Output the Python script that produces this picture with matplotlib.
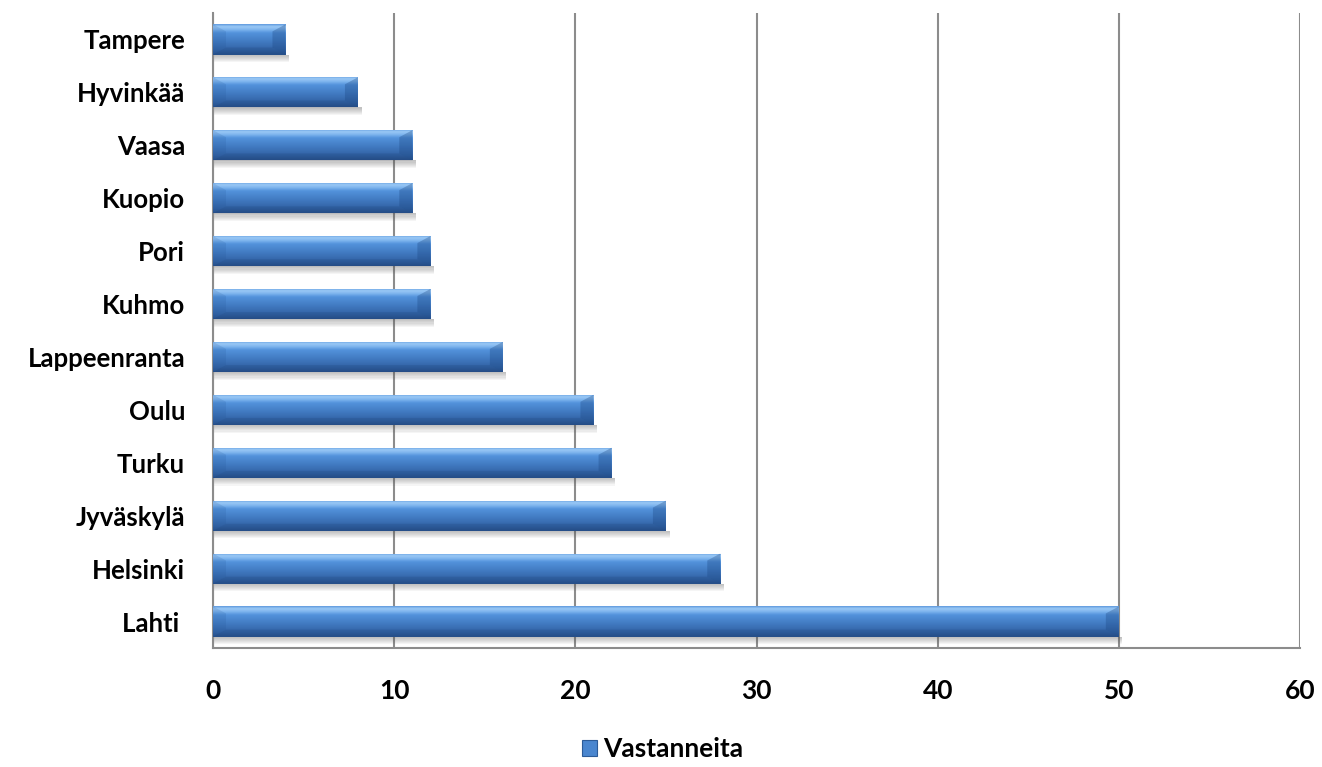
import numpy as np
import matplotlib
matplotlib.use("Agg")
import matplotlib.pyplot as plt
from matplotlib.colors import LinearSegmentedColormap
from matplotlib.patches import Rectangle, Polygon, Patch

plt.rcParams['font.family'] = ['Lato', 'DejaVu Sans']

cities = ["Lahti ", "Helsinki", "Jyväskylä", "Turku", "Oulu", "Lappeenranta",
          "Kuhmo", "Pori", "Kuopio", "Vaasa", "Hyvinkää", "Tampere"]
responses = [50, 28, 25, 22, 21, 16, 12, 12, 11, 11, 8, 4]
x_ticks = [0, 10, 20, 30, 40, 50, 60]
series_name = "Vastanneita"

W, H = 1322, 767
fig = plt.figure(figsize=(W / 100, H / 100), dpi=100)
ax = fig.add_axes([213 / W, 1 - 648 / H, (1300 - 213) / W, (648 - 13) / H])

ax.set_xlim(0, 60)
ax.set_ylim(-0.5, len(cities) - 0.5)

# vertical gradient for the glossy bars (bottom -> top)
bar_cmap = LinearSegmentedColormap.from_list(
    "glossy", [(0.00, "#28528c"), (0.15, "#3262a4"), (0.50, "#4580c8"),
               (0.72, "#5393dc"), (0.82, "#7db4ee"), (0.92, "#9ccaf6"),
               (1.00, "#5a96dc")])
grad = np.linspace(0, 1, 256).reshape(-1, 1)

bar_h = 0.57
px_per_unit = (1300 - 213) / 60
px_per_cat = (648 - 13) / len(cities)
bevel = 13 / px_per_unit        # bevel width in data units
bevel_y = 7 / px_per_cat        # bevel depth in category units

for i, v in enumerate(responses):
    y0, y1 = i - bar_h / 2, i + bar_h / 2
    # soft drop shadow below the bar
    for k in range(7):
        off = (k + 1) * 1.1 / px_per_cat
        ax.add_patch(Rectangle((0, y0 - off), v + 0.2, off, facecolor="#555555",
                               alpha=0.06, edgecolor="none", zorder=2))
    im = ax.imshow(grad, aspect="auto", cmap=bar_cmap, origin="lower",
                   extent=(0, v, y0, y1), zorder=3, interpolation="bicubic")
    clip = Rectangle((0, y0), v, bar_h, transform=ax.transData)
    im.set_clip_path(clip)
    # bevelled ends
    ax.add_patch(Polygon([(0, y1), (bevel, y1 - bevel_y), (bevel, y0 + bevel_y), (0, y0)],
                         closed=True, facecolor="#1f4f8f", alpha=0.15,
                         edgecolor="none", zorder=4))
    ax.add_patch(Polygon([(v, y1), (v - bevel, y1 - bevel_y), (v - bevel, y0 + bevel_y), (v, y0)],
                         closed=True, facecolor="#1a4580", alpha=0.32,
                         edgecolor="none", zorder=4))
    ax.add_patch(Polygon([(0, y0), (v, y0), (v - bevel, y0 + bevel_y), (bevel, y0 + bevel_y)],
                         closed=True, facecolor="#0f3060", alpha=0.15,
                         edgecolor="none", zorder=4))

ax.set_xticks(x_ticks)
ax.set_xticklabels([str(t) for t in x_ticks], fontsize=19, fontweight="bold")
ax.set_yticks(range(len(cities)))
ax.set_yticklabels(cities, fontsize=18.5, fontweight="bold")
ax.tick_params(axis="both", length=0)
ax.tick_params(axis="x", pad=22)
ax.tick_params(axis="y", pad=20)

ax.grid(axis="x", color="#8c8c8c", linewidth=1.5, zorder=1)
ax.set_axisbelow(True)
for s in ["top", "right"]:
    ax.spines[s].set_visible(False)
for s in ["left", "bottom"]:
    ax.spines[s].set_color("#8c8c8c")
    ax.spines[s].set_linewidth(1.5)

handle = Patch(facecolor="#4a86cf", edgecolor="#2c5b98", linewidth=0.8)
fig.legend([handle], [series_name], loc="center", bbox_to_anchor=(663 / W, 1 - 749 / H),
           frameon=False, prop={"weight": "bold", "size": 19},
           handlelength=0.55, handleheight=0.55, handletextpad=0.25)

fig.savefig("out.png", dpi=100, facecolor="white")
